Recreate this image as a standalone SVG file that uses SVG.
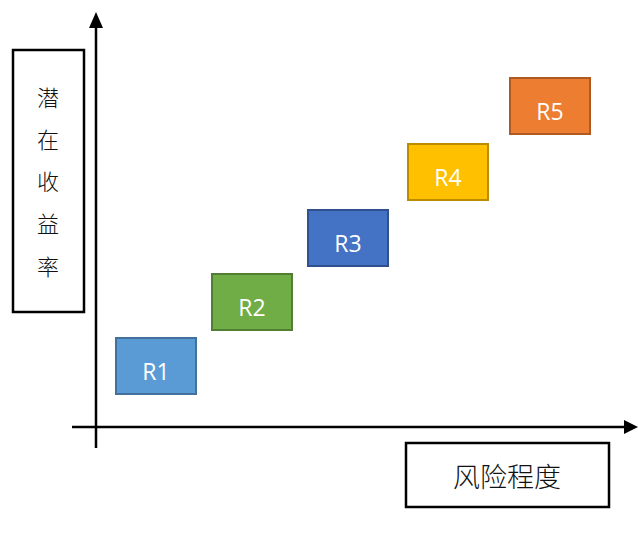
<svg xmlns="http://www.w3.org/2000/svg" width="638" height="539" viewBox="0 0 638 539">
<defs>
<style>
.lbl{fill:none;stroke:#000;stroke-width:2.5}
.cjk{font-family:"Noto Sans CJK SC","Noto Sans CJK JP",sans-serif;font-weight:300;fill:#111;text-anchor:middle}
.r{stroke-width:2}
.rt{font-family:"Open Sans","Liberation Sans",sans-serif;font-size:23px;fill:#fff;text-anchor:middle}
.ax{stroke:#000;stroke-width:2.5;fill:none}
</style>
</defs>
<rect width="638" height="539" fill="#fff"/>
<g id="connectors">
<line class="ax" x1="96" y1="448" x2="96" y2="28"/>
<path d="M89,28 L96,12 L103,28 Z" fill="#000"/>
<line class="ax" x1="72" y1="427" x2="624" y2="427"/>
<path d="M624,420 L638,427 L624,434 Z" fill="#000"/>
</g>
<g id="yLabel">
<rect class="lbl" x="13" y="50" width="71" height="262"/>
<text class="cjk" font-size="22" x="48" y="106">潜</text>
<text class="cjk" font-size="22" x="48" y="148">在</text>
<text class="cjk" font-size="22" x="48" y="190">收</text>
<text class="cjk" font-size="22" x="48" y="232">益</text>
<text class="cjk" font-size="22" x="48" y="275">率</text>
</g>
<g id="xLabel">
<rect class="lbl" x="406" y="443" width="203" height="64"/>
<text class="cjk" font-size="27" x="507" y="487">风险程度</text>
</g>
<g id="R1">
<rect class="r" x="116" y="338" width="80" height="56" fill="#5B9BD5" stroke="#41719C"/>
<text class="rt" x="156" y="380">R1</text>
</g>
<g id="R2">
<rect class="r" x="212" y="274" width="80" height="56" fill="#70AD47" stroke="#507E32"/>
<text class="rt" x="252" y="316">R2</text>
</g>
<g id="R3">
<rect class="r" x="308" y="210" width="80" height="56" fill="#4472C4" stroke="#2F528F"/>
<text class="rt" x="348" y="252">R3</text>
</g>
<g id="R4">
<rect class="r" x="408" y="144" width="80" height="56" fill="#FFC000" stroke="#BC8C00"/>
<text class="rt" x="448" y="186">R4</text>
</g>
<g id="R5">
<rect class="r" x="510" y="78" width="80" height="56" fill="#ED7D31" stroke="#AE5A21"/>
<text class="rt" x="550" y="120">R5</text>
</g>
</svg>
